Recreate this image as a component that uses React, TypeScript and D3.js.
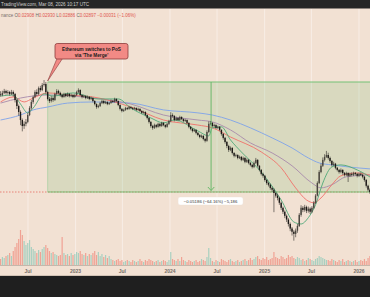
import React from "react";
import * as d3 from "d3";

const W = 370;
const H = 297;

// weekly candles, ETH/BTC
const startWeek = new Date(2022, 2, 14);
const firstOpen = 0.072;
const closes = [
  0.0716,0.0730,0.0743,0.0730,0.0736,0.0723,0.0736,0.0723,0.0683,0.0646,
  0.0611,0.0567,0.0536,0.0547,0.0557,0.0594,0.0634,0.0671,0.0703,0.0736,
  0.0723,0.0764,0.0750,0.0786,0.0793,0.0736,0.0690,0.0677,0.0696,0.0683,
  0.0723,0.0743,0.0730,0.0716,0.0703,0.0723,0.0709,0.0723,0.0709,0.0716,
  0.0703,0.0716,0.0736,0.0750,0.0716,0.0703,0.0709,0.0696,0.0703,0.0690,
  0.0696,0.0677,0.0658,0.0640,0.0646,0.0664,0.0677,0.0664,0.0671,0.0658,
  0.0664,0.0677,0.0671,0.0690,0.0677,0.0652,0.0629,0.0617,0.0623,0.0634,
  0.0629,0.0640,0.0634,0.0629,0.0634,0.0623,0.0629,0.0617,0.0606,0.0611,
  0.0594,0.0578,0.0557,0.0536,0.0527,0.0541,0.0532,0.0547,0.0536,0.0552,
  0.0541,0.0532,0.0547,0.0562,0.0594,0.0589,0.0567,0.0578,0.0567,0.0583,
  0.0572,0.0562,0.0567,0.0552,0.0532,0.0522,0.0512,0.0517,0.0503,0.0493,
  0.0484,0.0489,0.0475,0.0467,0.0507,0.0547,0.0552,0.0536,0.0541,0.0527,
  0.0532,0.0517,0.0498,0.0480,0.0462,0.0445,0.0429,0.0437,0.0417,0.0406,
  0.0409,0.0398,0.0402,0.0391,0.0398,0.0384,0.0391,0.0380,0.0373,0.0366,
  0.0380,0.0391,0.0370,0.0356,0.0343,0.0337,0.0324,0.0315,0.0310,0.0301,
  0.0296,0.0287,0.0280,0.0274,0.0262,0.0250,0.0241,0.0232,0.0224,0.0215,
  0.0206,0.0200,0.0196,0.0202,0.0211,0.0234,0.0250,0.0245,0.0252,0.0243,
  0.0248,0.0241,0.0250,0.0262,0.0280,0.0315,0.0349,0.0370,0.0391,0.0402,
  0.0409,0.0398,0.0387,0.0373,0.0377,0.0363,0.0356,0.0349,0.0356,0.0346,
  0.0340,0.0346,0.0337,0.0343,0.0340,0.0346,0.0343,0.0337,0.0343,0.0340,
  0.0334,0.0324,0.0307,0.0296,0.02897,
];
const highs = [
  0.0742,0.0745,0.0758,0.0752,0.0749,0.0744,0.0751,0.0747,0.0730,0.0690,
  0.0655,0.0620,0.0575,0.0560,0.0572,0.0605,0.0645,0.0684,0.0712,0.0748,
  0.0755,0.0775,0.0780,0.0800,0.0823,0.0808,0.0745,0.0702,0.0708,0.0705,
  0.0732,0.0756,0.0752,0.0738,0.0725,0.0731,0.0730,0.0733,0.0729,0.0725,
  0.0722,0.0724,0.0745,0.0762,0.0755,0.0721,0.0718,0.0714,0.0712,0.0709,
  0.0705,0.0700,0.0682,0.0662,0.0654,0.0672,0.0685,0.0683,0.0679,0.0675,
  0.0672,0.0686,0.0684,0.0698,0.0694,0.0680,0.0656,0.0633,0.0630,0.0641,
  0.0640,0.0647,0.0645,0.0640,0.0641,0.0638,0.0636,0.0632,0.0621,0.0618,
  0.0615,0.0598,0.0582,0.0561,0.0542,0.0548,0.0546,0.0553,0.0551,0.0558,
  0.0556,0.0545,0.0552,0.0568,0.0610,0.0603,0.0593,0.0585,0.0582,0.0590,
  0.0587,0.0576,0.0573,0.0570,0.0555,0.0536,0.0526,0.0523,0.0520,0.0507,
  0.0497,0.0495,0.0492,0.0480,0.0515,0.0560,0.0562,0.0556,0.0548,0.0545,
  0.0538,0.0536,0.0520,0.0502,0.0484,0.0466,0.0450,0.0443,0.0440,0.0420,
  0.0414,0.0412,0.0407,0.0405,0.0403,0.0401,0.0396,0.0394,0.0383,0.0376,
  0.0385,0.0398,0.0393,0.0372,0.0359,0.0347,0.0340,0.0327,0.0318,0.0313,
  0.0305,0.0300,0.0290,0.0285,0.0277,0.0265,0.0253,0.0244,0.0235,0.0227,
  0.0218,0.0209,0.0203,0.0206,0.0215,0.0238,0.0256,0.0254,0.0257,0.0255,
  0.0253,0.0251,0.0254,0.0266,0.0284,0.0320,0.0355,0.0378,0.0400,0.0412,
  0.0425,0.0418,0.0403,0.0390,0.0384,0.0380,0.0366,0.0359,0.0361,0.0358,
  0.0349,0.0350,0.0348,0.0347,0.0348,0.0350,0.0349,0.0346,0.0347,0.0348,
  0.0343,0.0337,0.0327,0.0310,0.0300,
];
const lows = [
  0.0705,0.0708,0.0722,0.0718,0.0719,0.0712,0.0716,0.0705,0.0668,0.0628,
  0.0590,0.0540,0.0510,0.0522,0.0535,0.0550,0.0588,0.0625,0.0660,0.0695,
  0.0710,0.0715,0.0738,0.0742,0.0775,0.0725,0.0680,0.0665,0.0668,0.0672,
  0.0678,0.0715,0.0720,0.0705,0.0695,0.0698,0.0701,0.0703,0.0700,0.0702,
  0.0695,0.0698,0.0710,0.0729,0.0708,0.0694,0.0697,0.0688,0.0690,0.0682,
  0.0684,0.0668,0.0650,0.0630,0.0633,0.0640,0.0658,0.0657,0.0658,0.0651,
  0.0652,0.0660,0.0665,0.0667,0.0670,0.0645,0.0620,0.0609,0.0611,0.0618,
  0.0622,0.0624,0.0627,0.0622,0.0624,0.0617,0.0618,0.0611,0.0600,0.0601,
  0.0587,0.0570,0.0549,0.0528,0.0518,0.0522,0.0525,0.0528,0.0530,0.0532,
  0.0535,0.0525,0.0528,0.0541,0.0555,0.0580,0.0560,0.0562,0.0560,0.0562,
  0.0566,0.0556,0.0557,0.0546,0.0525,0.0515,0.0505,0.0507,0.0496,0.0487,
  0.0478,0.0479,0.0469,0.0460,0.0463,0.0503,0.0540,0.0530,0.0531,0.0521,
  0.0522,0.0511,0.0490,0.0472,0.0455,0.0436,0.0421,0.0424,0.0411,0.0400,
  0.0401,0.0393,0.0394,0.0386,0.0387,0.0379,0.0380,0.0375,0.0368,0.0361,
  0.0362,0.0376,0.0365,0.0351,0.0338,0.0331,0.0319,0.0310,0.0305,0.0296,
  0.0290,0.0240,0.0275,0.0268,0.0257,0.0245,0.0236,0.0227,0.0219,0.0210,
  0.0201,0.0193,0.0184,0.0190,0.0198,0.0209,0.0230,0.0240,0.0241,0.0238,
  0.0239,0.0236,0.0238,0.0247,0.0259,0.0278,0.0312,0.0345,0.0366,0.0385,
  0.0398,0.0392,0.0381,0.0368,0.0369,0.0358,0.0351,0.0344,0.0345,0.0340,
  0.0335,0.0336,0.0318,0.0333,0.0335,0.0336,0.0338,0.0332,0.0333,0.0336,
  0.0329,0.0319,0.0302,0.0291,0.0285,
];
const volumes = [
  6,8,7,9,10,12,9,14,18,22,
  26,35,30,24,20,22,25,18,16,14,
  12,15,13,16,18,20,17,14,12,13,
  11,10,9,10,28,12,10,11,9,12,
  10,11,13,12,14,11,10,12,9,11,
  10,12,14,10,13,9,11,8,10,7,
  9,6,5,4,5,6,4,5,3,4,
  5,4,3,5,4,3,4,6,4,3,
  5,4,6,5,4,3,4,5,3,4,
  5,4,3,5,13,6,5,4,6,4,
  8,5,4,3,5,4,3,4,5,3,
  4,6,5,4,8,17,7,4,3,5,
  4,3,6,5,4,3,5,6,4,3,
  4,5,3,4,5,6,4,5,7,5,
  6,8,9,6,5,7,6,8,5,6,
  7,13,8,7,6,9,8,6,7,10,
  8,9,7,6,8,7,5,6,4,5,
  7,6,5,4,6,7,9,8,7,6,
  5,5,4,6,5,4,3,5,4,6,
  3,4,5,4,3,4,5,3,4,5,
  4,6,4,7,9,
];

// moving averages, sampled (week index, value)
const maBlueIdx = [0, 11, 18, 26, 37, 51, 72, 90, 109, 117, 127, 138, 150, 161, 170, 176, 183, 192, 205];
const maBlue = [0.0567, 0.0594, 0.0623, 0.0640, 0.0664, 0.0671, 0.0664, 0.0623, 0.0606, 0.0594, 0.0567, 0.0527, 0.0480, 0.0437, 0.0398, 0.0380, 0.0373, 0.0366, 0.0359];
const maPurpleIdx = [0, 11, 26, 51, 72, 90, 109, 117, 127, 138, 150, 161, 172, 177, 183, 191, 205];
const maPurple = [0.0664, 0.0696, 0.0716, 0.0696, 0.0658, 0.0594, 0.0567, 0.0557, 0.0517, 0.0458, 0.0417, 0.0370, 0.0315, 0.0301, 0.0310, 0.0334, 0.0340];
const maRedIdx = [0, 7, 13, 18, 26, 37, 51, 72, 90, 109, 117, 127, 144, 155, 163, 169, 173, 177, 183, 188, 197, 205];
const maRed = [0.0671, 0.0703, 0.0671, 0.0696, 0.0730, 0.0716, 0.0703, 0.0640, 0.0567, 0.0541, 0.0527, 0.0484, 0.0421, 0.0363, 0.0301, 0.0269, 0.0262, 0.0274, 0.0310, 0.0337, 0.0346, 0.0337];
const maGreenIdx = [0, 7, 11, 15, 18, 24, 29, 40, 54, 65, 72, 83, 90, 96, 109, 115, 117, 122, 127, 133, 144, 155, 162, 166, 170, 174, 178, 183, 188, 197, 205];
const maGreen = [0.0709, 0.0716, 0.0658, 0.0606, 0.0634, 0.0723, 0.0709, 0.0730, 0.0690, 0.0690, 0.0634, 0.0578, 0.0552, 0.0567, 0.0512, 0.0489, 0.0527, 0.0532, 0.0471, 0.0421, 0.0349, 0.0269, 0.0219, 0.0215, 0.0228, 0.0257, 0.0315, 0.0366, 0.0373, 0.0356, 0.0330];

// annotations
const boxTop = 0.08083;
const boxBottom = 0.02897;
const mergeDate = new Date(2022, 8, 15);
const measureDate = new Date(2024, 5, 8);
const measureText = "\u22120.05186 (\u221264.16%) \u22125,186";
const calloutLines = ["Ethereum switches to PoS", "via 'The Merge'"];
const headerTop = "TradingView.com, Mar 08, 2026 10:17 UTC";
const headerSymbol = "nance";
const ohlcKeys = ["O", "H", "L", "C"];
const ohlcVals = ["0.02908", "0.02930", "0.02886", "0.02897"];
const changeText = "\u22120.00031 (\u22121.06%)";

const tickDates = [
  new Date(2022, 6, 1), new Date(2023, 0, 1), new Date(2023, 6, 1), new Date(2024, 0, 1),
  new Date(2024, 6, 1), new Date(2025, 0, 1), new Date(2025, 6, 1), new Date(2026, 0, 1),
];
const tickLabels = ["Jul", "2023", "Jul", "2024", "Jul", "2025", "Jul", "2026"];

const BG = "#f2e1d3";
const FONT = "'Liberation Sans', Arial, sans-serif";

export default function App() {
  const x = d3.scaleTime().domain([new Date(2022, 6, 1), new Date(2026, 0, 1)]).range([28, 359]);
  const y = d3.scaleLog().domain([boxTop, boxBottom]).range([82, 192]);
  const yv = d3.scaleLinear().domain([0, 35]).range([265, 230]);
  const dateAt = (i: number) => d3.timeDay.offset(startWeek, i * 7 + 3);

  const candles = closes.map((c, i) => ({
    d: dateAt(i),
    o: i === 0 ? firstOpen : closes[i - 1],
    c,
    h: highs[i],
    l: lows[i],
    v: volumes[i],
  }));

  const maPath = (idx: number[], vals: number[]) =>
    d3
      .line<number>()
      .x((_, k) => x(dateAt(idx[k])))
      .y((v) => y(v))
      .curve(d3.curveMonotoneX)(vals) || "";

  const plotTop = 9;
  const axisY = 265;
  const bx0 = x(mergeDate);
  const by0 = y(boxTop);
  const by1 = y(boxBottom);
  const mx = x(measureDate);

  const ohlcParts: { t: string; c: string }[] = [];
  ohlcKeys.forEach((k, i) => {
    ohlcParts.push({ t: k, c: "#6a6a6a" });
    ohlcParts.push({ t: ohlcVals[i] + " ", c: "#e0574f" });
  });

  return (
    <div style={{ position: "fixed", left: 0, top: 0, width: W, height: H }}>
      <svg width={W} height={H} style={{ display: "block" }} fontFamily={FONT}>
        <defs>
          <clipPath id="plot">
            <rect x={0} y={plotTop} width={W} height={axisY - plotTop} />
          </clipPath>
        </defs>
        <rect x={0} y={0} width={W} height={H} fill={BG} />
        {/* grid */}
        {tickDates.map((d, i) => (
          <line key={i} x1={x(d)} x2={x(d)} y1={plotTop} y2={axisY} stroke="#f8ede6" strokeWidth={1} />
        ))}
        <g clipPath="url(#plot)">
          {/* volume */}
          {candles.map((k, i) => (
            <rect
              key={"v" + i}
              x={x(k.d) - 0.6}
              y={yv(k.v)}
              width={1.2}
              height={axisY - yv(k.v)}
              fill={k.c >= k.o ? "#a9d0c0" : "#f0a294"}
            />
          ))}
          {/* box */}
          <rect x={bx0} y={by0} width={W - bx0 + 5} height={by1 - by0} fill="rgba(76,175,80,0.15)" />
          {/* last price line */}
          <line x1={0} x2={W} y1={y(closes[closes.length - 1])} y2={y(closes[closes.length - 1])} stroke="#e66a62" strokeWidth={0.8} strokeDasharray="1.5,1.5" />
          <line x1={bx0} x2={W} y1={by0} y2={by0} stroke="#74c277" strokeWidth={1.2} />
          <line x1={bx0} x2={W} y1={by1} y2={by1} stroke="#74c277" strokeWidth={1.2} />
          <line x1={bx0} x2={bx0} y1={by0} y2={by1} stroke="#8fcb8f" strokeWidth={0.5} />
          {/* MAs */}
          <path d={maPath(maBlueIdx, maBlue)} fill="none" stroke="#7ea3ea" strokeWidth={0.9} />
          <path d={maPath(maPurpleIdx, maPurple)} fill="none" stroke="#a88aac" strokeWidth={0.9} />
          <path d={maPath(maRedIdx, maRed)} fill="none" stroke="#f0706a" strokeWidth={0.9} />
          <path d={maPath(maGreenIdx, maGreen)} fill="none" stroke="#4fa878" strokeWidth={0.9} />
          {/* candles */}
          {candles.map((k, i) => {
            const cx = x(k.d);
            const top = y(Math.max(k.o, k.c));
            const bot = y(Math.min(k.o, k.c));
            const up = k.c >= k.o;
            return (
              <g key={"c" + i}>
                <line x1={cx} x2={cx} y1={y(k.h)} y2={y(k.l)} stroke="#2e2a26" strokeWidth={0.6} />
                <rect
                  x={cx - 0.7}
                  y={top}
                  width={1.4}
                  height={Math.max(0.7, bot - top)}
                  fill={up ? "#4a463f" : "#1d1a17"}
                />
              </g>
            );
          })}
          {/* measure arrow */}
          <line x1={mx} x2={mx} y1={by0} y2={by1 - 1.5} stroke="#5fb562" strokeWidth={0.9} />
          <polyline points={`${mx - 3.2},${by1 - 5} ${mx},${by1 - 1.5} ${mx + 3.2},${by1 - 5}`} fill="none" stroke="#5fb562" strokeWidth={0.9} />
        </g>
        {/* measure label */}
        <rect x={mx - 33} y={by1 + 5} width={65} height={8} rx={2} fill="#ffffff" stroke="#eadfd6" strokeWidth={0.4} />
        <text x={mx - 0.5} y={by1 + 10.6} textAnchor="middle" fontSize={4.3} fill="#333">
          {measureText}
        </text>
        {/* callout */}
        <polygon points={`57,58.5 62.5,58.5 ${bx0},${by0 - 1}`} fill="#f28a85" stroke="#8b3a3a" strokeWidth={0.6} strokeLinejoin="round" />
        <rect x={55} y={43.5} width={73} height={15.5} rx={2.2} fill="#f28a85" stroke="#8b3a3a" strokeWidth={0.8} />
        <text x={91.5} y={51} textAnchor="middle" fontSize={4.7} fontWeight="bold" fill="#1a1a1a">
          {calloutLines[0]}
        </text>
        <text x={91.5} y={56.6} textAnchor="middle" fontSize={4.7} fontWeight="bold" fill="#1a1a1a">
          {calloutLines[1]}
        </text>
        {/* axis */}
        <line x1={0} x2={W} y1={axisY + 0.5} y2={axisY + 0.5} stroke="#b9aca1" strokeWidth={0.8} />
        {tickDates.map((d, i) => (
          <text key={"t" + i} x={x(d)} y={273} textAnchor="middle" fontSize={5} fontWeight="bold" fill="#77706a">
            {tickLabels[i]}
          </text>
        ))}
        <line x1={0} x2={W} y1={275.8} y2={275.8} stroke="#b8a99c" strokeWidth={0.8} />
        <rect x={0} y={276} width={W} height={H - 276} fill="#1f1f1f" />
        {/* header */}
        <rect x={0} y={0} width={W} height={8.5} fill="#262626" />
        <text x={1} y={6.3} fontSize={4.6} fill="#cfcfcf">
          {headerTop}
        </text>
        <text x={1} y={16.6} fontSize={4.5} fill="#7a706a">
          <tspan>{headerSymbol} </tspan>
          {ohlcParts.map((p, i) => (
            <tspan key={i} fill={p.c}>
              {p.t}
            </tspan>
          ))}
          <tspan fill="#e0574f">{changeText}</tspan>
        </text>
      </svg>
    </div>
  );
}
